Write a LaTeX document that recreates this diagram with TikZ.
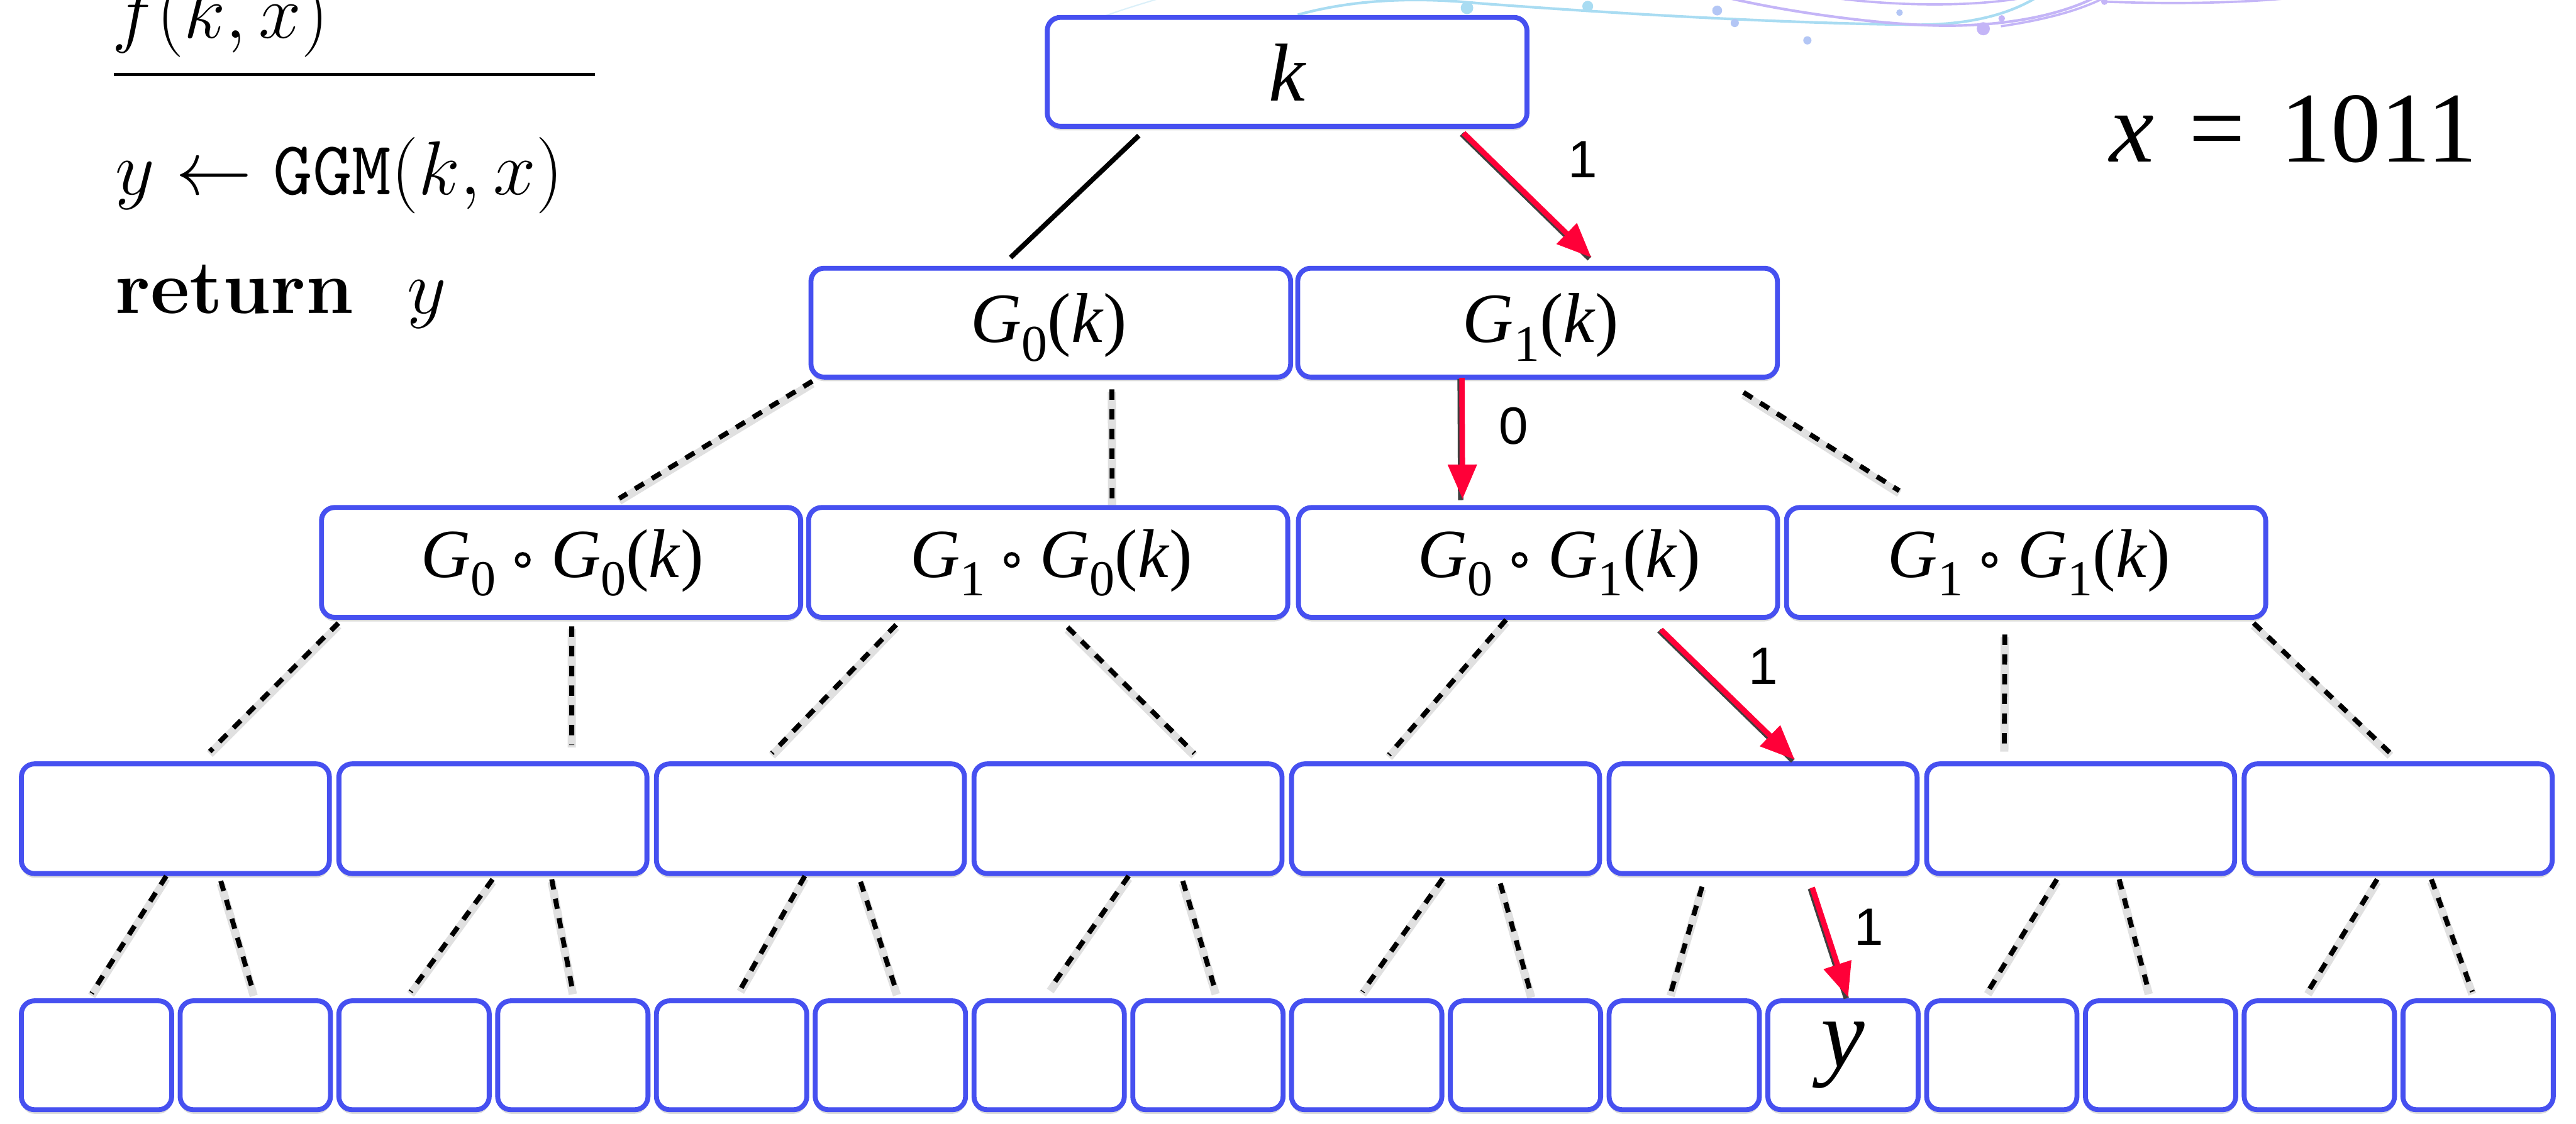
\RequirePackage{fix-cm}
\documentclass[tikz,border=0pt]{standalone}
\usepackage{fontspec}
\usepackage{graphicx}
\usetikzlibrary{calc,arrows.meta,shadows}
\newfontfamily\tms{Liberation Serif}
\newfontfamily\hel{Liberation Sans}
\definecolor{boxblue}{HTML}{4650F0}
\definecolor{arrred}{HTML}{FF0038}
\definecolor{decoA}{HTML}{A9DCF2}
\definecolor{decoB}{HTML}{B3C6F5}
\definecolor{decoC}{HTML}{C4B5F7}
\newcommand\Gs[1]{\textit{G}\raisebox{-0.26em}{\scalebox{0.73}{#1}}}
\newcommand\Kp{(\textit{k})}
\begin{document}
\begin{tikzpicture}[x=1pt,y=-1pt,
  box/.style={draw=boxblue, line width=3pt, rounded corners=8pt, fill=white, inner sep=0pt,
    drop shadow={shadow xshift=0pt, shadow yshift=-2.5pt, opacity=0.2, fill=black!70}},
  lvA/.style={box, minimum width=292pt, minimum height=66.3pt},
  lvB/.style={box, minimum width=291.7pt, minimum height=66.9pt},
  lvC/.style={box, minimum width=187.5pt, minimum height=66.8pt},
  lvD/.style={box, minimum width=91.5pt, minimum height=66.3pt},
  txt/.style={inner sep=0pt, anchor=base},
  tK/.style={txt, font=\tms\fontsize{50}{50}\selectfont},
  tL1/.style={txt, font=\tms\fontsize{43}{43}\selectfont},
  tL2L/.style={inner sep=0pt, anchor=base east, font=\tms\fontsize{42}{42}\selectfont},
  tL2R/.style={inner sep=0pt, anchor=base west, font=\tms\fontsize{42}{42}\selectfont},
  ring/.style={circle, draw=black, line width=2pt, minimum size=7.6pt, inner sep=0pt},
  tY/.style={txt, font=\tms\fontsize{60}{60}\selectfont},
  tX/.style={inner sep=0pt, anchor=base west, font=\tms\fontsize{61}{61}\selectfont},
  code/.style={inner sep=0pt, anchor=base west, font=\fontsize{46.5}{50}\selectfont},
  lbl/.style={inner sep=0pt, font=\hel\fontsize{32}{32}\selectfont},
  solidln/.style={draw=black, line width=3pt},
  dashln/.style={draw=black, line width=3pt, dash pattern=on 6.3pt off 5.7pt,
    preaction={draw=black, opacity=0.12, line width=5pt, transform canvas={shift={(0pt,-1.5pt)}}}},
  redarr/.style={draw=arrred, line width=3.3pt, -{Triangle[length=21pt,width=17pt]},
    preaction={draw=black!75, line width=3.3pt, arrows=-, transform canvas={shift={(-1.1pt,-0.6pt)}}}}
]
\useasboundingbox (0,0) rectangle (1568.1,684.4);
\fill[white] (0,0) rectangle (1568.1,684.4);

% decoration at the top
\draw[decoA!70, line width=0.8pt, opacity=0.6] (672,10) .. controls (685,5) and (700,1) .. (712,-3);
\draw[decoA, line width=1.6pt] (790,9) .. controls (830,-2) and (870,-1) .. (900,2) .. controls (980,8) and (1080,14) .. (1160,15) .. controls (1200,16) and (1225,8) .. (1242,-3);
\draw[decoC, line width=1.6pt] (1045,-3) .. controls (1080,6) and (1140,15) .. (1182,15.6) .. controls (1225,16) and (1258,8) .. (1278,-3);
\draw[decoC, line width=1.4pt] (1105,-3) .. controls (1140,3) and (1200,6) .. (1240,-3);
\draw[decoC, line width=1.4pt] (1218,16) .. controls (1245,12) and (1268,6) .. (1284,-3);
\draw[decoC, line width=1.4pt] (1281,1) .. controls (1320,2.5) and (1360,2) .. (1392,-1);
\fill[decoA] (893,4.8) circle[radius=3.8];
\fill[decoA] (966.5,3.8) circle[radius=3.3];
\fill[decoB] (1045.3,6.4) circle[radius=3];
\fill[decoB] (1056,14) circle[radius=2.5];
\fill[decoB] (1100.2,24.6) circle[radius=2.5];
\fill[decoB] (1156.3,7.7) circle[radius=2];
\fill[decoC] (1207.3,17.5) circle[radius=4];
\fill[decoC] (1218.5,11.2) circle[radius=2];
\fill[decoC] (1281,1) circle[radius=2];

% left code
\node[code] (fkx) at (68,23) {$f(k,x)$};
\coordinate (ruleL) at (69.4,45.5);
\coordinate (ruleR) at (362,45.5);
\draw[line width=1.9pt] (ruleL) -- (ruleR);
\node[code] (ggm) at (70,118.4) {$y \gets \texttt{GGM}(k,x)$};
\node[code] (ret) at (70,190.7) {\textbf{return}\hspace{0.7em}$y$};

% x = 1011
\node[tX] (xv) at (1284,98.5) {\textit{x}\hspace{0.35em}=\hspace{0.35em}1011};

% boxes
\node[lvA] (k) at (783.5,43.75) {};
\node[lvA] (g0) at (639.65,196.5) {};
\node[lvA] (g1) at (935.95,196.5) {};
\node[lvB] (a) at (341.55,342.5) {};
\node[lvB] (b) at (638.05,342.5) {};
\node[lvB] (c) at (936.25,342.5) {};
\node[lvB] (d) at (1233.35,342.5) {};
\foreach \i in {0,...,7} \node[lvC] (e\i) at ({106.75+\i*193.3},498.6) {};
\foreach \j in {0,...,15} \node[lvD] (f\j) at ({58.75+\j*96.65},642.65) {};

% box texts
\node[tK] (tk) at (784,61.3) {\textit{k}};
\node[tL1] (tg0) at (638.6,208.6) {\Gs{0}\Kp};
\node[tL1] (tg1) at (938,208.6) {\Gs{1}\Kp};
% G0 o G0(k)
\node[ring] (ra) at (318.2,341) {};
\node[tL2L] (ta1) at (302.2,351.8) {\Gs{0}};
\node[tL2R] (ta2) at (335.2,351.8) {\Gs{0}\Kp};
% G1 o G0(k)
\node[ring] (rb) at (615.9,341) {};
\node[tL2L] (tb1) at (599.9,351.8) {\Gs{1}};
\node[tL2R] (tb2) at (632.9,351.8) {\Gs{0}\Kp};
% G0 o G1(k)
\node[ring] (rc) at (925,341) {};
\node[tL2L] (tc1) at (909,351.8) {\Gs{0}};
\node[tL2R] (tc2) at (942,351.8) {\Gs{1}\Kp};
% G1 o G1(k)
\node[ring] (rd) at (1211.1,341) {};
\node[tL2L] (td1) at (1195.1,351.8) {\Gs{1}};
\node[tL2R] (td2) at (1228.1,351.8) {\Gs{1}\Kp};
\node[tY] (ty) at (1122,650) {\textit{y}};

% level 0 -> 1
\draw[solidln] ($(k.south west)!0.194!(k.south east)+(0,4.2)$) -- ($(g0.north west)!0.417!(g0.north east)+(0,-5)$);
\draw[redarr] ($(k.south west)!0.864!(k.south east)+(0,2.6)$) -- ($(g1.north west)!0.611!(g1.north east)+(0,-5)$);
% level 1 -> 2
\draw[dashln] ($(g0.south west)!0.008!(g0.south east)+(0,1)$) -- ($(a.north west)!0.62!(a.north east)+(0,-4)$);
\draw[dashln] ($(g0.south west)!0.626!(g0.south east)+(0,6)$) -- ($(b.north west)!0.632!(b.north east)+(0,-1.5)$);
\draw[redarr] ($(g1.south west)!0.344!(g1.south east)+(0,-1)$) -- ($(c.north west)!0.344!(c.north east)+(0,-3.6)$);
\draw[dashln] ($(g1.south west)!0.925!(g1.south east)+(0,7.8)$) -- ($(d.north west)!0.238!(d.north east)+(0,-8.7)$);
% level 2 -> 3
\draw[dashln] ($(a.south west)!0.04!(a.south east)+(0,2)$) -- ($(e0.north west)!0.61!(e0.north east)+(0,-6)$);
\draw[dashln] ($(a.south west)!0.522!(a.south east)+(0,4)$) -- ($(e1.north west)!0.752!(e1.north east)+(0,-10)$);
\draw[dashln] ($(b.south west)!0.186!(b.south east)+(0,3)$) -- ($(e2.north west)!0.377!(e2.north east)+(0,-5)$);
\draw[dashln] ($(b.south west)!0.54!(b.south east)+(0,4.5)$) -- ($(e3.north west)!0.712!(e3.north east)+(0,-5)$);
\draw[dashln] ($(c.south west)!0.434!(c.south east)+(0,0)$) -- ($(e4.north west)!0.319!(e4.north east)+(0,-4)$);
\draw[redarr] ($(c.south west)!0.754!(c.south east)+(0,6)$) -- ($(e5.north west)!0.601!(e5.north east)+(0,-1)$);
\draw[dashln] ($(d.south west)!0.456!(d.south east)+(0,9)$) -- ($(e6.north west)!0.256!(e6.north east)+(0,-7.5)$);
\draw[dashln] ($(d.south west)!0.97!(d.south east)+(0,2)$) -- ($(e7.north west)!0.475!(e7.north east)+(0,-5)$);
% level 3 -> 4
\draw[dashln] ($(e0.south west)!0.471!(e0.south east)+(0,0)$) -- ($(f0.north west)!0.469!(f0.north east)+(0,-3)$);
\draw[dashln] ($(e0.south west)!0.645!(e0.south east)+(0,3)$) -- ($(f1.north west)!0.49!(f1.north east)+(0,-3)$);
\draw[dashln] ($(e1.south west)!0.499!(e1.south east)+(0,2)$) -- ($(f2.north west)!0.478!(f2.north east)+(0,-4)$);
\draw[dashln] ($(e1.south west)!0.688!(e1.south east)+(0,2)$) -- ($(f3.north west)!0.50!(f3.north east)+(0,-4)$);
\draw[dashln] ($(e2.south west)!0.482!(e2.south east)+(0,0)$) -- ($(f4.north west)!0.557!(f4.north east)+(0,-5.5)$);
\draw[dashln] ($(e2.south west)!0.66!(e2.south east)+(0,3.5)$) -- ($(f5.north west)!0.542!(f5.north east)+(0,-3.5)$);
\draw[dashln] ($(e3.south west)!0.502!(e3.south east)+(0,0)$) -- ($(f6.north west)!0.507!(f6.north east)+(0,-6)$);
\draw[dashln] ($(e3.south west)!0.675!(e3.south east)+(0,3)$) -- ($(f7.north west)!0.55!(f7.north east)+(0,-4)$);
\draw[dashln] ($(e4.south west)!0.491!(e4.south east)+(0,1.5)$) -- ($(f8.north west)!0.473!(f8.north east)+(0,-4)$);
\draw[dashln] ($(e4.south west)!0.675!(e4.south east)+(0,4.5)$) -- ($(f9.north west)!0.537!(f9.north east)+(0,-2)$);
\draw[dashln] ($(e5.south west)!0.305!(e5.south east)+(0,6.5)$) -- ($(f10.north west)!0.412!(f10.north east)+(0,-3)$);
\draw[redarr] ($(e5.south west)!0.657!(e5.south east)+(0,7)$) -- ($(f11.north west)!0.533!(f11.north east)+(0,-0.6)$);
\draw[dashln] ($(e6.south west)!0.424!(e6.south east)+(0,2)$) -- ($(f12.north west)!0.409!(f12.north east)+(0,-4)$);
\draw[dashln] ($(e6.south west)!0.623!(e6.south east)+(0,2)$) -- ($(f13.north west)!0.424!(f13.north east)+(0,-4)$);
\draw[dashln] ($(e7.south west)!0.433!(e7.south east)+(0,2)$) -- ($(f14.north west)!0.427!(f14.north east)+(0,-4)$);
\draw[dashln] ($(e7.south west)!0.606!(e7.south east)+(0,2)$) -- ($(f15.north west)!0.463!(f15.north east)+(0,-4)$);

% edge labels
\node[lbl] (l1) at (963.3,97) {1};
\node[lbl] (l0) at (921.2,259.6) {0};
\node[lbl] (l2) at (1073.4,405.6) {1};
\node[lbl] (l3) at (1137.5,564.6) {1};
\end{tikzpicture}
\end{document}
